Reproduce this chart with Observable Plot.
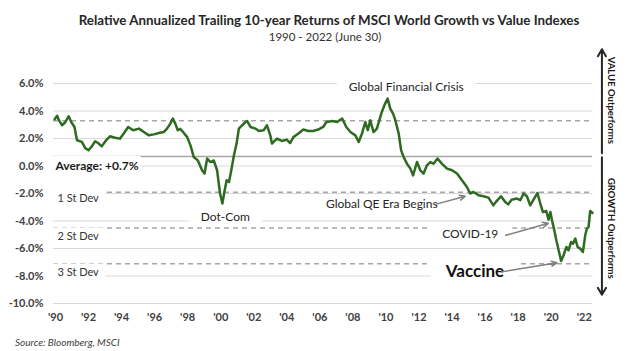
<!DOCTYPE html>
<html><head><meta charset="utf-8">
<script src="https://cdn.jsdelivr.net/npm/d3@7"></script>
<script src="https://cdn.jsdelivr.net/npm/@observablehq/plot@0.6"></script>
<style>
body{margin:0;background:#fff;}
#wrap{position:relative;width:640px;height:351px;overflow:hidden;font-family:Lato,"Open Sans",sans-serif;color:#262626;background:#fff;}
#title{position:absolute;top:12px;left:0;width:658px;text-align:center;font-weight:bold;font-size:13.35px;line-height:16px;white-space:nowrap;}
#subtitle{position:absolute;top:30px;left:0;width:650px;text-align:center;font-size:11.5px;line-height:14px;color:#333;}
#chart{position:absolute;top:45px;left:0;}
#source{position:absolute;left:15px;top:336px;font-size:10px;line-height:13px;font-style:italic;color:#404040;}
</style>
</head><body>
<div id="wrap">
  <div id="title">Relative Annualized Trailing 10-year Returns of MSCI World Growth vs Value Indexes</div>
  <div id="subtitle">1990 - 2022 (June 30)</div>
  <div id="chart"></div>
  <div id="source">Source: Bloomberg, MSCI</div>
</div>
<script>
// ---- data ----
const years = [1989.95,1990.10,1990.20,1990.40,1990.60,1990.80,1990.95,1991.15,1991.30,1991.60,1991.80,1992.00,1992.20,1992.40,1992.60,1992.80,1993.10,1993.30,1993.60,1993.90,1994.15,1994.40,1994.70,1995.05,1995.35,1995.65,1995.95,1996.25,1996.55,1996.75,1996.95,1997.10,1997.25,1997.40,1997.55,1997.72,1997.97,1998.17,1998.37,1998.61,1998.87,1999.02,1999.18,1999.38,1999.58,1999.78,1999.96,2000.10,2000.24,2000.36,2000.50,2000.64,2000.80,2000.96,2001.10,2001.20,2001.50,2001.60,2001.80,2002.10,2002.30,2002.60,2002.80,2003.00,2003.10,2003.40,2003.70,2004.00,2004.20,2004.40,2004.70,2005.00,2005.30,2005.60,2005.90,2006.20,2006.40,2006.75,2007.05,2007.35,2007.60,2007.85,2008.15,2008.35,2008.55,2008.75,2008.90,2009.05,2009.25,2009.45,2009.75,2009.95,2010.10,2010.26,2010.43,2010.57,2010.77,2010.92,2011.07,2011.27,2011.48,2011.64,2011.88,2012.08,2012.28,2012.48,2012.68,2012.88,2013.12,2013.38,2013.70,2014.00,2014.30,2014.60,2014.90,2015.10,2015.30,2015.60,2015.90,2016.20,2016.50,2016.70,2016.96,2017.22,2017.40,2017.60,2017.93,2018.13,2018.33,2018.53,2018.73,2018.97,2019.17,2019.34,2019.50,2019.70,2019.84,2019.95,2020.05,2020.19,2020.31,2020.45,2020.60,2020.75,2020.92,2021.05,2021.20,2021.32,2021.46,2021.60,2021.76,2021.92,2022.06,2022.16,2022.26,2022.36,2022.50];
const relReturn = [3.40,3.65,3.35,2.96,3.20,3.62,3.20,2.84,1.87,1.75,1.30,1.14,1.43,1.80,1.65,1.43,1.92,2.16,2.06,1.99,2.40,2.84,2.60,2.72,2.47,2.23,2.30,2.40,2.47,2.72,3.08,3.45,3.08,2.60,2.70,2.47,2.10,1.50,0.65,0.41,-0.31,-0.55,0.54,0.29,0.40,-0.31,-2.00,-2.73,-1.77,-1.04,-1.16,-0.31,0.78,1.63,2.72,2.84,3.20,3.27,2.84,2.72,2.55,2.60,2.96,2.23,1.63,1.99,1.82,1.92,1.67,2.10,2.36,2.65,2.55,2.55,2.65,2.84,3.20,3.27,3.20,3.45,2.84,2.47,2.23,1.75,2.36,3.20,2.60,3.32,2.47,2.72,3.93,4.54,4.90,4.17,3.81,3.32,2.36,1.14,0.65,0.17,-0.19,-0.68,0.29,-0.31,-0.55,0.05,0.29,0.17,0.54,0.17,-0.19,-0.31,-0.55,-1.04,-1.53,-2.00,-1.89,-2.13,-2.20,-2.30,-2.86,-2.55,-2.20,-2.62,-2.79,-2.45,-2.37,-2.49,-2.00,-2.20,-2.86,-2.37,-1.96,-2.73,-3.35,-3.27,-3.90,-3.35,-3.95,-4.68,-5.40,-6.13,-6.90,-6.49,-5.89,-6.13,-5.53,-5.65,-5.28,-5.89,-6.01,-6.25,-5.04,-4.55,-4.44,-3.27,-3.42];

const xTicks = d3.range(1990, 2023, 2);
const yTicks = [6, 4, 2, 0, -2, -4, -6, -8, -10];
const average = 0.7;
const stDevLevels = [3.3, -1.9, -4.5, -7.1];

// annotations
const eventLabels = ["Global Financial Crisis", "Dot-Com", "Global QE Era Begins", "COVID-19"];
const eventX = [2011.23, 2000.28, 2009.75, 2015.1];
const eventY = [5.75, -3.71, -2.79, -4.97];
const vaccineLabel = ["Vaccine"]; const vaccineX = [2015.39]; const vaccineY = [-7.71];
const averageLabel = ["Average: +0.7%"];
const stDevLabels = ["1 St Dev", "2 St Dev", "3 St Dev"];
const stDevLabelY = [-2.37, -5.09, -7.71];
const arrowFromX = [2012.99, 2017.25, 2017.0];
const arrowFromY = [-2.79, -5.04, -7.70];
const arrowToX = [2014.8, 2019.82, 2020.35];
const arrowToY = [-2.2, -4.17, -7.04];
const sideLabels = ["VALUE Outperforms", "GROWTH Outperforms"];
const sideLabelY = [4.78, -4.53];
const sideArrowFrom = [0.92, 0.63];
const sideArrowTo = [8.49, -9.37];

// ---- tables ----
const series = years.map((y, i) => ({year: y, value: relReturn[i]}));
const events = eventLabels.map((t, i) => ({t, x: eventX[i], y: eventY[i]}));
const vacc = vaccineLabel.map((t, i) => ({t, x: vaccineX[i], y: vaccineY[i]}));
const sdl = stDevLabels.map((t, i) => ({t, x: 1990.12, y: stDevLabelY[i]}));
const arrows = arrowFromX.map((x1, i) => ({x1, y1: arrowFromY[i], x2: arrowToX[i], y2: arrowToY[i]}));
const sideX = 2023.07, sideTextX = 2023.62;
const sideArr = sideArrowFrom.map((y1, i) => ({y1, y2: sideArrowTo[i]}));
const side = sideLabels.map((t, i) => ({t, y: sideLabelY[i]}));

const FONT = "Lato, 'Open Sans', sans-serif";

const plot = Plot.plot({
  width: 640, height: 285,
  marginTop: 38, marginBottom: 27, marginLeft: 53, marginRight: 48,
  style: {fontFamily: FONT, fontSize: "11px", fontWeight: "bold", color: "#404040", background: "white", overflow: "visible"},
  x: {domain: [1989.88, 2022.5], ticks: xTicks, tickSize: 0, tickPadding: 10,
      tickFormat: d => "'" + String(d).slice(2), label: null},
  y: {domain: [-10, 6], ticks: yTicks, tickSize: 0, tickPadding: 10,
      tickFormat: d => d.toFixed(1) + "%", label: null},
  marks: [
    Plot.ruleY(yTicks, {stroke: "#d9d9d9", strokeWidth: 1}),
    Plot.ruleY([average], {stroke: "#a6a6a6", strokeWidth: 1.5}),
    Plot.ruleY(stDevLevels, {stroke: "#a6a6a6", strokeWidth: 1.5, strokeDasharray: "5,4"}),
    Plot.line(series, {x: "year", y: "value", stroke: "#2e6a22", strokeWidth: 2.5, curve: "linear"}),
    Plot.text(averageLabel, {x: () => 1990.0, y: () => 0, text: d => d, textAnchor: "start",
      fontSize: 12, fontWeight: "bold", fill: "#1a1a1a", fontFamily: FONT, className: "lbl-tight"}),
    Plot.text(sdl, {x: "x", y: "y", text: "t", textAnchor: "start", fontSize: 11, fontWeight: "normal",
      fill: "#333", fontFamily: FONT, className: "lbl-mid"}),
    Plot.text(events.slice(0, 2), {x: "x", y: "y", text: "t", fontSize: 12, fontWeight: "normal",
      fill: "#262626", fontFamily: FONT, className: "lbl-wide"}),
    Plot.text(events.slice(2), {x: "x", y: "y", text: "t", fontSize: 12, fontWeight: "normal",
      fill: "#262626", fontFamily: FONT, className: "lbl-wide2"}),
    Plot.text(vacc, {x: "x", y: "y", text: "t", fontSize: 17, fontWeight: "bold",
      fill: "#111", fontFamily: FONT, className: "lbl-wide2"}),
    Plot.arrow(arrows, {x1: "x1", y1: "y1", x2: "x2", y2: "y2", stroke: "#7f7f7f", strokeWidth: 1.5,
      headLength: 6, headAngle: 50}),
    Plot.arrow(sideArr, {x1: () => sideX, x2: () => sideX, y1: "y1", y2: "y2", stroke: "#262626",
      strokeWidth: 2, headLength: 6, headAngle: 60}),
    Plot.text(side, {x: () => sideTextX, y: "y", text: "t", rotate: 90, fontSize: 9.5, fontWeight: "bold",
      fill: "#1a1a1a", fontFamily: FONT})
  ]
});
document.getElementById("chart").append(plot);

// white boxes behind annotation labels (like text boxes with white fill)
const pads = {"lbl-tight": [2, 2], "lbl-mid": [6, 1], "lbl-wide": [12, 1], "lbl-wide2": [14, 2]};
for (const [cls, [px, py]] of Object.entries(pads)) {
  plot.querySelectorAll(`g.${cls} text`).forEach(t => {
    const b = t.getBBox();
    const r = document.createElementNS("http://www.w3.org/2000/svg", "rect");
    r.setAttribute("x", b.x - px); r.setAttribute("y", b.y - py);
    r.setAttribute("width", b.width + 2 * px); r.setAttribute("height", b.height + 2 * py);
    r.setAttribute("fill", "white");
    const tr = t.getAttribute("transform"); if (tr) r.setAttribute("transform", tr);
    t.parentNode.insertBefore(r, t);
  });
}
</script>
</body></html>
